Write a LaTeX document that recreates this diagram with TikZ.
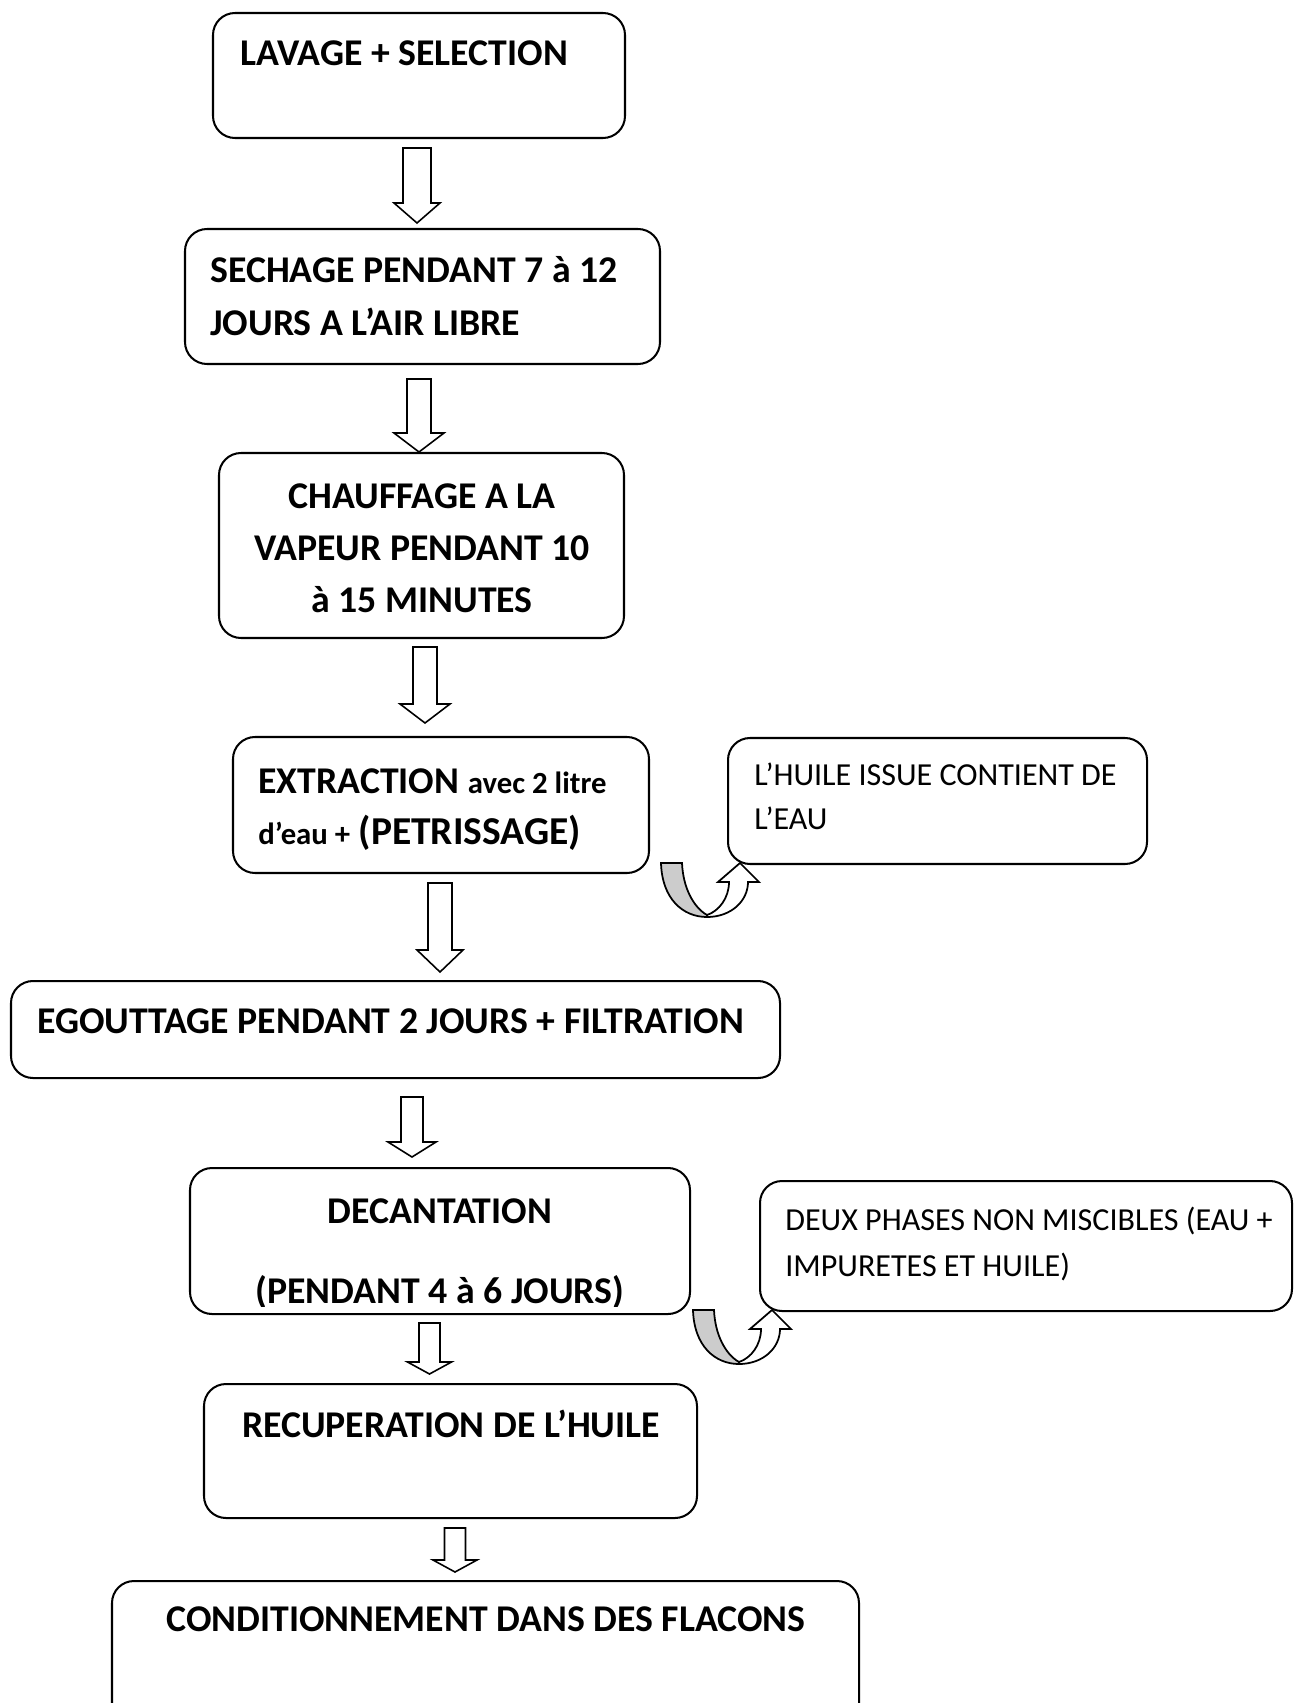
\documentclass[tikz,border=0pt]{standalone}
\usepackage{fontspec}
\setmainfont{Carlito}
\begin{document}
\begin{tikzpicture}[x=0.02cm,y=-0.02cm,
  box/.style={draw, line width=1.15pt, rounded corners=0.44cm, inner sep=0pt, outer sep=0pt},
  big/.style={font=\fontsize{21.5}{26}\selectfont\bfseries, inner sep=0pt},
  side/.style={font=\fontsize{18.25}{22}\selectfont, inner sep=0pt},
  barrow/.style={draw, fill=white, line width=0.9pt, line join=miter},
  uturn/.pic={
    % grey back side of the U-turn
    \filldraw[fill=gray!40, line width=1pt]
      (0,0) .. controls (1,36) and (22,54) .. (46,54)
      -- (46,52) .. controls (32,44) and (22,24) .. (21,0) -- cycle;
    % white front side ending in the arrow head
    \filldraw[fill=white, line width=1pt, line join=miter]
      (46,54) .. controls (70,54) and (87,38) .. (87,19)
      -- (98,19) -- (79,0) -- (57,19) -- (68,19)
      .. controls (68,35) and (58,48) .. (46,52) -- cycle;
  }]
\useasboundingbox (0,0) rectangle (1295,1703);

% rounded process boxes: name, x1, y1, x2, y2
\newcommand\procbox[5]{%
  \node[box, minimum width={(#4-#2)*0.02cm}, minimum height={(#5-#3)*0.02cm}]
    (#1) at ({(#2+#4)/2},{(#3+#5)/2}) {};}
% hollow block arrow: centre x, top, head base, tip, shaft half width, head half width
\newcommand\blockarrow[6]{%
  \draw[barrow] ({#1-#5},#2) -- ({#1+#5},#2) -- ({#1+#5},#3) -- ({#1+#6},#3)
    -- (#1,#4) -- ({#1-#6},#3) -- ({#1-#5},#3) -- cycle;}

\procbox{b1}{213}{13}{625}{138}
\procbox{b2}{185}{229}{660}{364}
\procbox{b3}{219}{453}{624}{638}
\procbox{b4}{233}{737}{649}{873}
\procbox{s1}{728}{738}{1147}{864}
\procbox{b5}{11}{981}{780}{1078}
\procbox{b6}{190}{1168}{690}{1314}
\procbox{s2}{760}{1181}{1292}{1311}
\procbox{b7}{204}{1384}{697}{1518}
\procbox{b8}{112}{1581}{859}{1740}

% texts
\node[big, anchor=base west] (t1) at (240,66) {LAVAGE + SELECTION};
\node[big, anchor=base west] (t2a) at (210,282) {SECHAGE PENDANT 7 à 12};
\node[big, anchor=base west] (t2b) at (210,335) {JOURS A L’AIR LIBRE};
\node[big, anchor=base] (t3a) at (422,508) {CHAUFFAGE A LA};
\node[big, anchor=base] (t3b) at (422,560) {VAPEUR PENDANT 10};
\node[big, anchor=base] (t3c) at (422,612) {à 15 MINUTES};
\node[big, anchor=base west] (t4a) at (258,793)
  {EXTRACTION {\fontsize{17.5}{20}\selectfont avec 2 litre}};
\node[big, anchor=base west] (t4b) at (258,844)
  {{\fontsize{17.5}{20}\selectfont d’eau +} {\fontsize{22.5}{26}\selectfont (PETRISSAGE)}};
\node[side, anchor=base west] (u1a) at (754,785) {L’HUILE ISSUE CONTIENT DE};
\node[side, anchor=base west] (u1b) at (754,829) {L’EAU};
\node[big, anchor=base west] (t5) at (37,1033) {EGOUTTAGE PENDANT 2 JOURS + FILTRATION};
\node[big, anchor=base] (t6a) at (440,1223) {DECANTATION};
\begin{scope}
  % the lower line sits against the bottom of its box and is cut there
  \clip (190,1168) rectangle (690,1306);
  \node[big, anchor=base] (t6b) at (440,1303) {(PENDANT 4 à 6 JOURS)};
\end{scope}
\node[side, anchor=base west] (u2a) at (785,1230) {DEUX PHASES NON MISCIBLES (EAU +};
\node[side, anchor=base west] (u2b) at (785,1276) {IMPURETES ET HUILE)};
\node[big, anchor=base] (t7) at (451,1437) {RECUPERATION DE L’HUILE};
\node[big, anchor=base] (t8) at (486,1631) {CONDITIONNEMENT DANS DES FLACONS};

% arrows between the steps
\blockarrow{417}{148}{203}{223}{14}{23}
\blockarrow{419}{379}{433}{452}{12}{25}
\blockarrow{425}{647}{704}{723}{12}{25}
\blockarrow{440}{883}{950}{972}{12}{23}
\blockarrow{412}{1097}{1142}{1157}{11}{24}
\blockarrow{429.5}{1323}{1362}{1374}{10.5}{22}
\blockarrow{455}{1528}{1560}{1572}{10.5}{22}

% U-turn arrows towards the side notes
\pic (ua) at (661,863) {uturn};
\pic (ub) at (693,1310) {uturn};
\end{tikzpicture}
\end{document}
